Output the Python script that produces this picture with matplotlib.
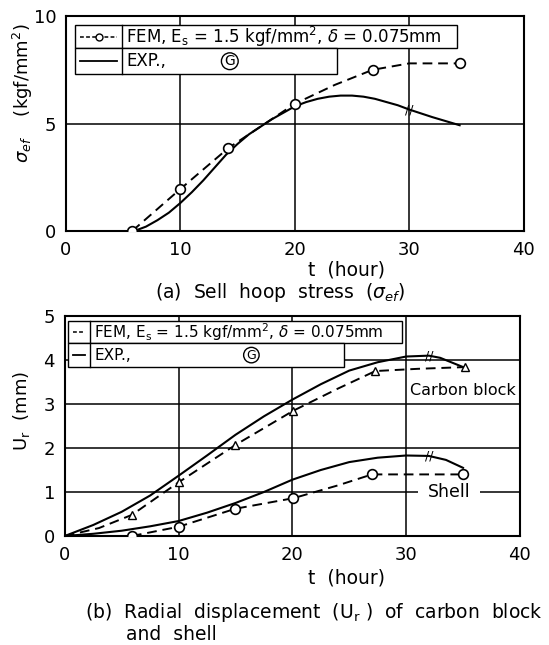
import matplotlib.pyplot as plt
from matplotlib.patches import Rectangle

# (a) shell hoop stress
fem_a_t = [5.8, 10, 14.2, 20, 23.5, 26.8, 30, 34.4]
fem_a_v = [0.0, 1.95, 3.86, 5.92, 6.8, 7.5, 7.8, 7.8]
fem_a_mark_t = [5.8, 10, 14.2, 20, 26.8, 34.4]
fem_a_mark_v = [0.0, 1.95, 3.86, 5.92, 7.5, 7.8]
exp_a_t = [6, 7, 8, 9, 10, 11, 12, 13, 14, 15, 16, 17, 18, 19, 20, 21, 22, 23, 24,
           25, 26, 27, 28, 29, 30, 32, 34.4]
exp_a_v = [0.0, 0.2, 0.5, 0.85, 1.3, 1.8, 2.35, 2.95, 3.55, 4.05, 4.5, 4.85, 5.2, 5.5,
           5.8, 6.0, 6.15, 6.25, 6.3, 6.3, 6.25, 6.15, 6.0, 5.85, 5.65, 5.3, 4.92]

# (b) radial displacement
carb_fem_t = [0, 3, 5.9, 10, 15, 20.1, 24, 27.3, 31, 35.2]
carb_fem_v = [0, 0.18, 0.48, 1.22, 2.07, 2.85, 3.35, 3.75, 3.8, 3.84]
carb_mark_t = [5.9, 10, 15, 20.1, 27.3, 35.2]
carb_mark_v = [0.48, 1.22, 2.07, 2.85, 3.75, 3.84]
carb_exp_t = [0, 2.5, 5, 7.5, 10, 12.5, 15, 17.5, 20, 22.5, 25, 27.5, 30, 32, 33, 35.2]
carb_exp_v = [0, 0.25, 0.55, 0.92, 1.37, 1.83, 2.3, 2.72, 3.1, 3.45, 3.76, 3.95, 4.08,
              4.1, 4.05, 3.82]
shell_fem_t = [5.9, 10, 15, 20.1, 24, 27, 31, 35]
shell_fem_v = [0, 0.21, 0.62, 0.86, 1.15, 1.4, 1.4, 1.4]
shell_mark_t = [5.9, 10, 15, 20.1, 27, 35]
shell_mark_v = [0, 0.21, 0.62, 0.86, 1.4, 1.4]
shell_exp_t = [0, 2.5, 5, 7.5, 10, 12.5, 15, 17.5, 20, 22.5, 25, 27.5, 30, 32, 33.5, 35]
shell_exp_v = [0, 0.05, 0.12, 0.22, 0.34, 0.53, 0.75, 1.0, 1.28, 1.5, 1.68, 1.78, 1.83,
               1.82, 1.73, 1.55]

plt.rcParams['font.family'] = ['DejaVu Sans']
plt.rcParams['mathtext.fontset'] = 'dejavusans'

fig = plt.figure(figsize=(5.49, 6.45), dpi=100)
ax1 = fig.add_axes([0.120, 0.642, 0.834, 0.333])
ax2 = fig.add_axes([0.118, 0.169, 0.829, 0.341])

for ax in (ax1, ax2):
    ax.set_xlim(0, 40)
    ax.set_xticks([0, 10, 20, 30, 40])
    ax.tick_params(length=0, labelsize=13, pad=7)
    for s in ax.spines.values():
        s.set_linewidth(1.5)
    for x in (10, 20, 30):
        ax.axvline(x, color='black', lw=1.1, zorder=1)

ax1.set_ylim(0, 10)
ax1.set_yticks([0, 5, 10])
ax1.axhline(5, color='black', lw=1.1, zorder=1)
ax2.set_ylim(0, 5)
ax2.set_yticks([0, 1, 2, 3, 4, 5])
for y in (1, 2, 3, 4):
    ax2.axhline(y, color='black', lw=1.1, zorder=1)

dash = (0, (5, 3))

# (a) curves
ax1.plot(fem_a_t, fem_a_v, color='black', ls=dash, lw=1.4, zorder=3)
ax1.plot(fem_a_mark_t, fem_a_mark_v, ls='none', marker='o', ms=7,
         mfc='white', mec='black', mew=1.2, zorder=4)
ax1.plot(exp_a_t, exp_a_v, color='black', lw=1.5, zorder=3)
ax1.text(30, 5.65, '//', ha='center', va='center', fontsize=9, zorder=5)

# (b) curves
ax2.plot(carb_fem_t, carb_fem_v, color='black', ls=dash, lw=1.4, zorder=3)
ax2.plot(carb_mark_t, carb_mark_v, ls='none', marker='^', ms=6,
         mfc='white', mec='black', mew=1.0, zorder=4)
ax2.plot(carb_exp_t, carb_exp_v, color='black', lw=1.5, zorder=3)
ax2.plot(shell_fem_t, shell_fem_v, color='black', ls=dash, lw=1.4, zorder=3)
ax2.plot(shell_mark_t, shell_mark_v, ls='none', marker='o', ms=7,
         mfc='white', mec='black', mew=1.2, zorder=4)
ax2.plot(shell_exp_t, shell_exp_v, color='black', lw=1.5, zorder=3)
ax2.text(32, 4.1, '//', ha='center', va='center', fontsize=9, zorder=5)
ax2.text(32, 1.82, '//', ha='center', va='center', fontsize=9, zorder=5)

ax2.text(30.3, 3.3, 'Carbon block', ha='left', va='center', fontsize=11.5, zorder=5)
# white box only hides the gridline, curves stay on top
ax2.text(33.8, 1.0, 'Shell', ha='center', va='center', fontsize=12.5, zorder=2,
         bbox=dict(facecolor='white', edgecolor='none', pad=7))


def legend_box(ax, x0, xd, x1a, x1b, ytop, ymid, ybot, fem_label, g_x, fs,
               marker=True):
    tr = ax.transAxes
    ax.add_patch(Rectangle((x0, ymid), x1a - x0, ytop - ymid, transform=tr,
                           fc='white', ec='black', lw=1.0, zorder=6))
    ax.add_patch(Rectangle((x0, ybot), x1b - x0, ymid - ybot, transform=tr,
                           fc='white', ec='black', lw=1.0, zorder=6))
    ax.plot([xd, xd], [ybot, ytop], color='black', lw=1.0, transform=tr, zorder=7)
    yc1 = (ytop + ymid) / 2
    yc2 = (ymid + ybot) / 2
    ax.plot([x0 + 0.01, xd - 0.01], [yc1, yc1], color='black', lw=1.1,
            ls=(0, (2.5, 1.5)), transform=tr, zorder=7)
    if marker:
        ax.plot([(x0 + xd) / 2], [yc1], marker='o', ms=5, mfc='white',
                mec='black', mew=1.0, transform=tr, zorder=8)
    ax.plot([x0 + 0.01, xd - 0.01], [yc2, yc2], color='black', lw=1.3,
            transform=tr, zorder=7)
    ax.text(xd + 0.01, yc1, fem_label, transform=tr, ha='left', va='center',
            fontsize=fs, zorder=8)
    ax.text(xd + 0.01, yc2, 'EXP.,', transform=tr, ha='left', va='center',
            fontsize=fs, zorder=8)
    ax.text(g_x, yc2, 'G', transform=tr, ha='center', va='center', fontsize=fs - 2,
            zorder=8, bbox=dict(boxstyle='circle,pad=0.1', fc='white', ec='black', lw=1.0))


fem_label = r'FEM, E$_\mathrm{s}$ = 1.5 kgf/mm$^2$, $\delta$ = 0.075mm'
legend_box(ax1, 0.021, 0.122, 0.854, 0.592, 0.958, 0.85, 0.73, fem_label, 0.358, 12)
legend_box(ax2, 0.007, 0.055, 0.741, 0.613, 0.977, 0.877, 0.768, fem_label, 0.41, 11,
           marker=False)

ax1.set_ylabel(r'$\sigma_{ef}$    (kgf/mm$^2$)', fontsize=13)
ax1.yaxis.set_label_coords(-0.068, 0.64)
ax2.set_ylabel(r'U$_\mathrm{r}$  (mm)', fontsize=13)
ax2.yaxis.set_label_coords(-0.073, 0.57)

cap = dict(ha='center', va='center', fontsize=13.5)
fig.text(346 / 549, 1 - 270 / 645, 't  (hour)', **cap)
fig.text(280 / 549, 1 - 293 / 645, r'(a)  Sell  hoop  stress  ($\sigma_{ef}$)', **cap)
fig.text(346 / 549, 1 - 578 / 645, 't  (hour)', **cap)
fig.text(85 / 549, 1 - 613 / 645,
         r'(b)  Radial  displacement  (U$_\mathrm{r}$ )  of  carbon  block',
         ha='left', va='center', fontsize=13.5)
fig.text(126 / 549, 1 - 634 / 645, 'and  shell', ha='left', va='center', fontsize=13.5)

fig.savefig('out.png', dpi=100)
